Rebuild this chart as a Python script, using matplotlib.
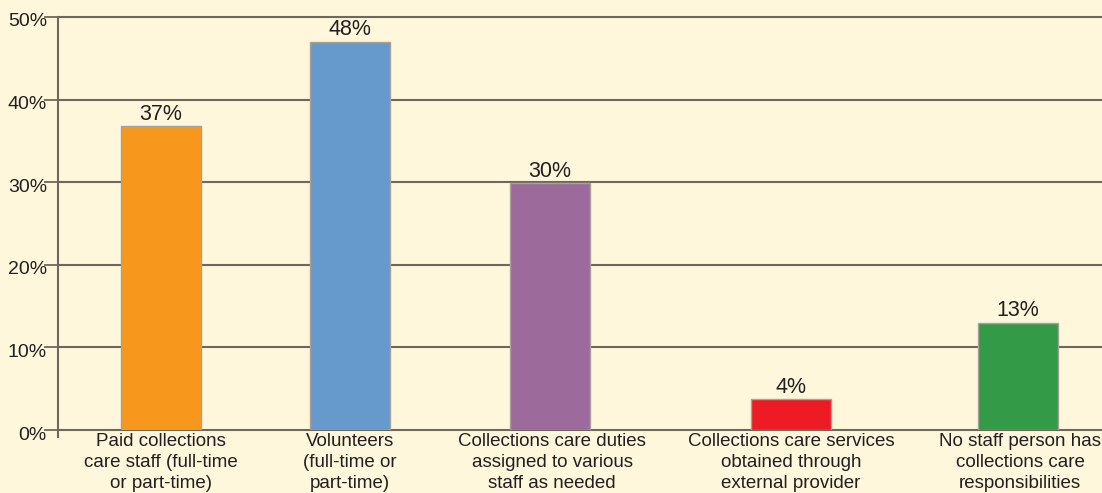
import matplotlib
matplotlib.use("Agg")
import matplotlib.pyplot as plt
import matplotlib.transforms as mtransforms

categories = [
    "Paid collections\ncare staff (full-time\nor part-time)",
    "Volunteers\n(full-time or\npart-time)",
    "Collections care duties\nassigned to various\nstaff as needed",
    "Collections care services\nobtained through\nexternal provider",
    "No staff person has\ncollections care\nresponsibilities",
]
values = [36.8, 47.0, 29.9, 3.7, 13.0]
value_labels = ["37%", "48%", "30%", "4%", "13%"]
colors = ["#F7981D", "#6699CC", "#9C6B9B", "#ED1C24", "#339A47"]
yticks = [0, 10, 20, 30, 40, 50]
ytick_labels = ["0%", "10%", "20%", "30%", "40%", "50%"]

positions = [1.03, 2.92, 4.92, 7.325, 9.60]
label_positions = [1.03, 2.92, 4.94, 7.33, 9.62]

bg = "#FEF7DC"
grid_c = "#6E675C"
txt_c = "#231F20"

plt.rcParams['font.family'] = ['Liberation Sans', 'DejaVu Sans']

fig = plt.figure(figsize=(11.02, 4.93), dpi=100, facecolor=bg)
ax = fig.add_axes([58 / 1102, 63 / 493, 1 - 58 / 1102, (430 - 17) / 493])
ax.set_facecolor(bg)

ax.set_xlim(0, 10.44)
ax.set_ylim(0, 50)

for s in ["top", "right", "bottom"]:
    ax.spines[s].set_visible(False)
ax.spines["left"].set_color(grid_c)
ax.spines["left"].set_linewidth(1.5)
ax.spines["left"].set_bounds(-0.9, 50)

ax.set_yticks(yticks)
ax.set_yticklabels(ytick_labels, fontsize=14, color=txt_c)
ax.tick_params(axis="y", length=10, width=1.3, color=grid_c, pad=-2)
ax.set_xticks([])
shift = mtransforms.ScaledTranslation(0, -3 / 100, fig.dpi_scale_trans)
for t in ax.get_yticklabels():
    t.set_transform(t.get_transform() + shift)

for yv in yticks:
    ax.axhline(yv, color=grid_c, linewidth=1.5, zorder=1, clip_on=False)

bars = ax.bar(positions, values, width=0.8, color=colors, edgecolor="#A8A29A",
              linewidth=1.0, zorder=2)

for b, lab in zip(bars, value_labels):
    ax.annotate(lab, (b.get_x() + b.get_width() / 2, b.get_height()),
                xytext=(0, 1), textcoords="offset points",
                ha="center", va="bottom", fontsize=15.5, color=txt_c)

for xp, cat in zip(label_positions, categories):
    ax.annotate(cat, (xp, 0), xytext=(0, -2.5), textcoords="offset points",
                ha="center", va="top", fontsize=13.5, color=txt_c,
                linespacing=1.3, annotation_clip=False)

fig.savefig("out.png", dpi=100, facecolor=bg)
